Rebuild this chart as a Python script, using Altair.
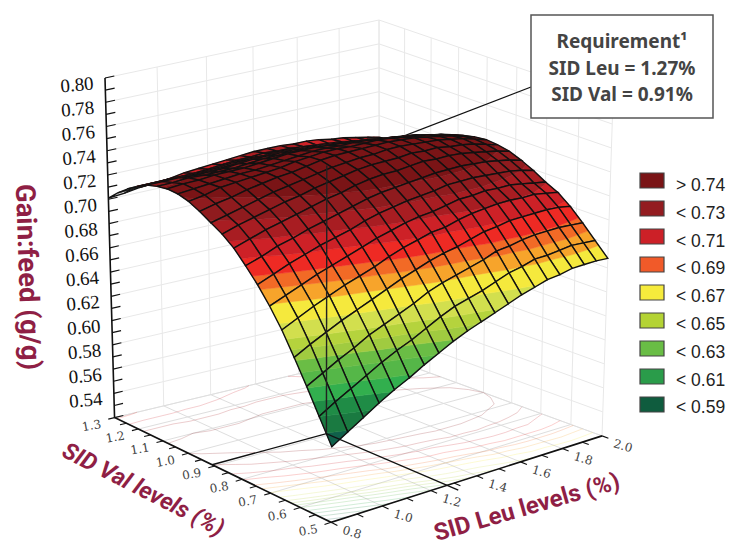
import altair as alt
import numpy as np

LEU_NODES = [round(0.8 + 0.06 * k, 2) for k in range(21)]
VAL_NODES = [round(0.5 + 0.04 * k, 2) for k in range(21)]
# Gain:feed; one row per SID Val node (0.50 .. 1.30), one column per SID Leu node
Z_ROWS = [
 [.583,.591,.599,.607,.614,.620,.627,.633,.639,.644,.648,.652,.656,.660,.663,.666,.667,.669,.669,.669,.668],
 [.603,.611,.618,.625,.632,.638,.643,.649,.655,.660,.663,.666,.670,.674,.676,.679,.679,.680,.681,.680,.679],
 [.623,.630,.637,.643,.650,.655,.660,.665,.671,.675,.678,.681,.684,.688,.689,.691,.692,.692,.692,.691,.690],
 [.642,.649,.655,.661,.666,.671,.676,.681,.685,.689,.692,.694,.697,.700,.701,.703,.703,.703,.703,.702,.700],
 [.660,.666,.672,.677,.682,.686,.690,.695,.699,.702,.705,.706,.709,.711,.712,.713,.713,.712,.712,.710,.708],
 [.675,.680,.685,.690,.694,.698,.702,.706,.709,.712,.714,.715,.717,.719,.719,.720,.719,.719,.717,.715,.713],
 [.688,.693,.698,.702,.706,.709,.712,.716,.719,.721,.723,.724,.725,.727,.727,.727,.726,.725,.724,.722,.719],
 [.699,.703,.708,.711,.715,.718,.721,.724,.727,.729,.730,.731,.732,.733,.733,.733,.732,.731,.729,.727,.724],
 [.709,.713,.717,.720,.723,.726,.729,.731,.734,.736,.737,.737,.738,.739,.738,.738,.737,.735,.733,.731,.728],
 [.716,.720,.723,.726,.729,.731,.734,.736,.738,.740,.741,.741,.741,.742,.741,.741,.739,.738,.736,.733,.730],
 [.721,.724,.727,.730,.733,.735,.737,.739,.741,.742,.743,.743,.744,.744,.743,.742,.741,.739,.737,.734,.731],
 [.726,.729,.731,.734,.736,.738,.739,.741,.743,.744,.744,.744,.744,.744,.743,.742,.740,.738,.736,.733,.730],
 [.730,.732,.735,.736,.737,.738,.739,.741,.742,.743,.743,.742,.742,.742,.741,.739,.737,.736,.733,.731,.728],
 [.732,.733,.734,.735,.736,.736,.737,.738,.739,.740,.740,.739,.739,.738,.737,.735,.734,.732,.730,.728,.725],
 [.732,.733,.733,.734,.734,.734,.735,.736,.737,.737,.737,.736,.735,.734,.733,.731,.730,.728,.727,.724,.722],
 [.730,.730,.731,.730,.730,.730,.731,.732,.732,.732,.732,.731,.731,.730,.728,.726,.725,.723,.723,.720,.718],
 [.727,.727,.727,.726,.726,.726,.727,.728,.728,.728,.728,.727,.726,.725,.724,.722,.721,.719,.718,.716,.714],
 [.722,.722,.722,.721,.721,.721,.722,.722,.723,.723,.723,.722,.721,.720,.719,.717,.716,.715,.714,.712,.710],
 [.716,.716,.716,.716,.716,.716,.717,.718,.718,.718,.718,.718,.717,.716,.715,.713,.712,.711,.709,.708,.706],
 [.709,.710,.710,.710,.711,.711,.712,.713,.714,.714,.715,.714,.714,.713,.712,.711,.710,.708,.707,.706,.703],
 [.701,.702,.704,.705,.706,.708,.709,.710,.711,.712,.713,.713,.713,.712,.712,.711,.709,.708,.706,.704,.702],
]
BAND_EDGES = [.592,.603,.613,.622,.632,.640,.647,.654,.664,.676,.685,.693,.703,.7125,.722,.731]
BAND_COLORS = ["#10604a","#1a7a41","#1f8c46","#32af4e","#55b748","#6abd45","#a0cb40","#b5d33d","#d2df4e",
               "#f5e93d","#f7a42b","#f26a26","#ee2a24","#cd2127","#a81d22","#8f1b1e","#7a1416"]
LEGEND_LABELS = ["> 0.74","< 0.73","< 0.71","< 0.69","< 0.67","< 0.65","< 0.63","< 0.61","< 0.59"]
LEGEND_COLORS = ["#7a1416","#931c20","#cc2027","#f15a29","#f6eb3c","#b4d334","#69bd45","#2a9c4a","#0f5c3e"]
LEU_TICKS = [0.8,1.0,1.2,1.4,1.6,1.8,2.0]
VAL_TICKS = [0.5,0.6,0.7,0.8,0.9,1.0,1.1,1.2,1.3]
Z_TICKS = [0.54,0.56,0.58,0.60,0.62,0.64,0.66,0.68,0.70,0.72,0.74,0.76,0.78,0.80]
REQ_LEU, REQ_VAL, REQ_Z = 1.27, 0.91, 0.742
BOX_LINES = ["Requirement\u00b9","SID Leu = 1.27%","SID Val = 0.91%"]
LEU0, LEU1, VAL0, VAL1, Z0, Z1 = 0.8, 2.0, 0.5, 1.3, 0.52, 0.80

W, H = 719, 536
OFF = 8
# camera calibration: anchors of the box's floor and top planes in picture pixels
FLOOR_CAL = [((0,1),(113,414)),((0,0),(333,526)),((1,0),(604,432)),((1,1),(380,358)),
             ((.5,0),(472,477)),((0,.5),(218,467)),((.3917,.5125),(325,432))]
TOP_CAL = [((0,1),(105,78)),((0,0),(334,186)),((1,0),(613,100)),((1,1),(379,20))]
def homography(cal):
    A, b = [], []
    for (u,v),(x,y) in cal:
        A.append([u,v,1,0,0,0,-x*u,-x*v]); b.append(x)
        A.append([0,0,0,u,v,1,-y*u,-y*v]); b.append(y)
    h = np.linalg.lstsq(np.array(A,float), np.array(b,float), rcond=None)[0]
    return np.append(h,1.0).reshape(3,3)
HF, HT = homography(FLOOR_CAL), homography(TOP_CAL)

def proj(leu, val, z):
    q = np.array([(leu-LEU0)/(LEU1-LEU0),(val-VAL0)/(VAL1-VAL0),1.0])
    f = HF @ q; t = HT @ q
    f = f[:2]/f[2]; t = t[:2]/t[2]
    w = (z-Z0)/(Z1-Z0)
    r = f + w*(t-f)
    return [round(float(r[0]-OFF),2), round(float(r[1]-OFF),2)]

features = []
def line(pts, color, width, op=1.0):
    features.append({"type":"Feature","geometry":{"type":"LineString","coordinates":pts},
                     "properties":{"f":"transparent","s":color,"w":width,"o":op}})
def poly(pts, fill, stroke, width):
    ring = [list(q) for q in pts]; ring.append(ring[0])
    features.append({"type":"Feature","geometry":{"type":"Polygon","coordinates":[ring]},
                     "properties":{"f":fill,"s":stroke,"w":width,"o":1.0}})

GRID = "#e8e8e8"
FLOORG = "#dedede"
zgrid = [round(.52+.02*k,2) for k in range(15)]
for z in zgrid:
    line([proj(LEU0,VAL1,z),proj(LEU1,VAL1,z)],GRID,1)
    line([proj(LEU1,VAL1,z),proj(LEU1,VAL0,z)],GRID,1)
for l in LEU_TICKS:
    line([proj(l,VAL1,Z0),proj(l,VAL1,Z1)],GRID,1)
    line([proj(l,VAL0,Z0),proj(l,VAL1,Z0)],FLOORG,1)
for v in VAL_TICKS:
    line([proj(LEU1,v,Z0),proj(LEU1,v,Z1)],GRID,1)
    line([proj(LEU0,v,Z0),proj(LEU1,v,Z0)],FLOORG,1)

Z = Z_ROWS
# floor contours
def cross(a,b,lev):
    (x1,y1,z1),(x2,y2,z2)=a,b
    f=(lev-z1)/(z2-z1)
    return proj(x1+f*(x2-x1),y1+f*(y2-y1),Z0)
for k,lev in enumerate(BAND_EDGES):
    col = BAND_COLORS[k]
    for j in range(20):
        for i in range(20):
            c=[(LEU_NODES[i],VAL_NODES[j],Z[j][i]),(LEU_NODES[i+1],VAL_NODES[j],Z[j][i+1]),
               (LEU_NODES[i+1],VAL_NODES[j+1],Z[j+1][i+1]),(LEU_NODES[i],VAL_NODES[j+1],Z[j+1][i])]
            pts=[]
            for m in range(4):
                a,bb=c[m],c[(m+1)%4]
                if (a[2]<lev)!=(bb[2]<lev):
                    pts.append(cross(a,bb,lev))
            if len(pts)>=2:
                line(pts[:2],col,0.8,0.28)

# leader behind the surface
top = proj(REQ_LEU,REQ_VAL,REQ_Z)
line([top,[531-OFF,87-OFF]],"#111111",1.3)

def area(pts):
    s=0
    for m in range(len(pts)):
        x1,y1=pts[m]; x2,y2=pts[(m+1)%len(pts)]
        s+=x1*y2-x2*y1
    return s
floor_sign = np.sign(area([proj(LEU0,VAL0,Z0),proj(LEU1,VAL0,Z0),proj(LEU1,VAL1,Z0),proj(LEU0,VAL1,Z0)]))

def clip(pg, lev, keep_above):
    out=[]
    for m in range(len(pg)):
        a,bb=pg[m],pg[(m+1)%len(pg)]
        ina=(a[2]>=lev) if keep_above else (a[2]<=lev)
        inb=(bb[2]>=lev) if keep_above else (bb[2]<=lev)
        if ina: out.append(a)
        if ina!=inb:
            f=(lev-a[2])/(bb[2]-a[2])
            out.append((a[0]+f*(bb[0]-a[0]),a[1]+f*(bb[1]-a[1]),lev))
    return out

edges=[0.0]+BAND_EDGES+[1.0]
for j in range(19,-1,-1):
    for i in range(19,-1,-1):
        idx=[(i,j),(i+1,j),(i+1,j+1),(i,j+1)]
        scr=[proj(LEU_NODES[a],VAL_NODES[c],Z[c][a]) for a,c in idx]
        pg=[(s[0],s[1],Z[c][a]) for s,(a,c) in zip(scr,idx)]
        if np.sign(area(scr))!=floor_sign:
            poly(scr,"#d6d6d6","#d6d6d6",0.4)
        else:
            for k,col in enumerate(BAND_COLORS):
                q=clip(pg,edges[k],True)
                if len(q)>=3: q=clip(q,edges[k+1],False)
                if len(q)>=3:
                    poly([[round(t[0],2),round(t[1],2)] for t in q],col,col,0.5)
        poly(scr,"transparent","#111111",1.4)

# requirement lines
line([top,proj(REQ_LEU,REQ_VAL,Z0)],"#222222",1.4)
line([proj(LEU0,REQ_VAL,Z0),proj(REQ_LEU,REQ_VAL,Z0),proj(REQ_LEU,VAL0-0.035,Z0)],"#111111",1.4)

# axes
line([proj(LEU0,VAL1,Z1),proj(LEU0,VAL1,Z0),proj(LEU0,VAL0,Z0),proj(LEU1,VAL0,Z0)],"#111111",1.6)
for k in range(29):
    z=round(.52+.01*k,2)
    line([proj(LEU0,VAL1,z),proj(LEU0+.035,VAL1,z)],"#111111",1.2)
for k in range(17):
    v=VAL0+.05*k
    line([proj(LEU0,v,Z0),proj(LEU0-.025,v,Z0)],"#111111",1.1)
for k in range(13):
    l=LEU0+.1*k
    line([proj(l,VAL0,Z0),proj(l,VAL0-.02,Z0)],"#111111",1.1)

geo = alt.Chart(alt.Data(values=features)).mark_geoshape().encode(
    fill=alt.Fill("properties.f:N",scale=None),
    stroke=alt.Stroke("properties.s:N",scale=None),
    strokeWidth=alt.StrokeWidth("properties.w:Q",scale=None),
    strokeOpacity=alt.StrokeOpacity("properties.o:Q",scale=None),
).project(type="identity",scale=1,translate=[0,0])

SX = alt.Scale(domain=[0,W],nice=False,zero=False)
SY = alt.Scale(domain=[H,0],nice=False,zero=False)
X = alt.X("x:Q",scale=SX,axis=None)
Y = alt.Y("y:Q",scale=SY,axis=None)

def text_layer(rows, **kw):
    return alt.Chart(alt.Data(values=rows)).mark_text(**kw).encode(x=X,y=Y,text="t:N")

zrows=[]
for z in Z_TICKS:
    q=proj(LEU0,VAL1,z); zrows.append({"x":q[0]-28,"y":q[1]+7,"t":f"{z:.2f}"})
vrows=[]
for v in VAL_TICKS:
    q=proj(LEU0,v,Z0); vrows.append({"x":q[0]-23,"y":q[1]+8,"t":f"{v:.1f}"})
lrows=[]
for l in LEU_TICKS:
    q=proj(l,VAL0,Z0); lrows.append({"x":q[0]+21,"y":q[1]+10,"t":f"{l:.1f}"})

TITLE = "#8f1f45"
layers=[geo,
    text_layer(zrows,font="Liberation Serif",fontSize=19,angle=355,color="#111111",align="center",baseline="middle"),
    text_layer(vrows,font="DejaVu Serif",fontSize=12,angle=350,color="#444444",align="center",baseline="middle"),
    text_layer(lrows,font="DejaVu Serif",fontSize=12,angle=16,color="#444444",align="center",baseline="middle"),
    text_layer([{"x":27-OFF,"y":277-OFF,"t":"Gain:feed (g/g)"}],font="Roboto",fontWeight="bold",fontSize=27.5,angle=88,color=TITLE,align="center",baseline="middle"),
    text_layer([{"x":143-OFF,"y":490-OFF,"t":"SID Val levels (%)"}],font="Roboto",fontWeight="bold",fontStyle="italic",fontSize=23.5,angle=27,color=TITLE,align="center",baseline="middle"),
    text_layer([{"x":527-OFF,"y":508-OFF,"t":"SID Leu levels (%)"}],font="Roboto",fontWeight="bold",fontSize=24,angle=344,color=TITLE,align="center",baseline="middle"),
]
box=alt.Chart(alt.Data(values=[{"x":531-OFF,"x2":713-OFF,"y":15-OFF,"y2":118-OFF}])).mark_rect(fill="white",stroke="#555555",strokeWidth=1.5).encode(
    x=X,x2="x2:Q",y=Y,y2="y2:Q")
layers.append(box)
layers.append(text_layer([{"x":622-OFF,"y":yy-OFF,"t":t} for t,yy in zip(BOX_LINES,[42,69,95])],
    font="Noto Sans",fontWeight="bold",fontSize=19,color="#444444",align="center",baseline="middle"))
sw=[{"x":640-OFF,"x2":664-OFF,"y":173-OFF+28*k,"y2":188-OFF+28*k,"c":c} for k,c in enumerate(LEGEND_COLORS)]
layers.append(alt.Chart(alt.Data(values=sw)).mark_rect(stroke="#444444",strokeWidth=1.2).encode(
    x=X,x2="x2:Q",y=Y,y2="y2:Q",fill=alt.Fill("c:N",scale=None)))
layers.append(text_layer([{"x":676-OFF,"y":186-OFF+27.8*k,"t":t} for k,t in enumerate(LEGEND_LABELS)],
    font="Liberation Sans",fontSize=17.5,color="#222222",align="left",baseline="middle"))

chart=alt.layer(*layers).properties(width=W,height=H,padding=0,autosize=alt.AutoSizeParams(type="none")).configure_view(stroke=None)
chart.save("out.html",embed_options={"renderer":"svg","actions":False})
